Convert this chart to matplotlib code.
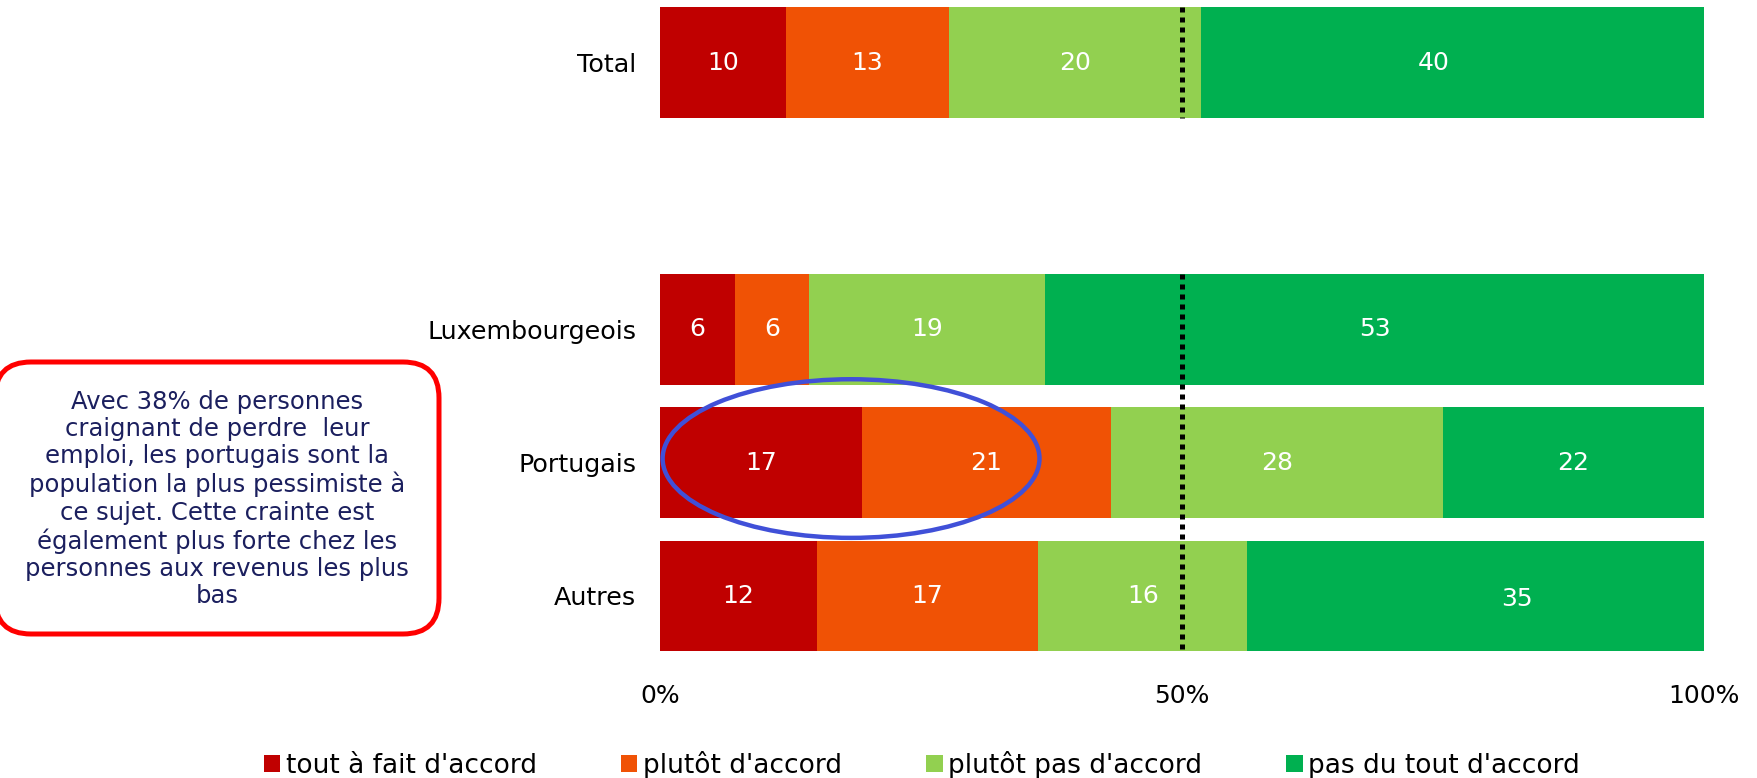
import matplotlib
matplotlib.use("Agg")
import matplotlib.pyplot as plt
from matplotlib.patches import Ellipse, FancyBboxPatch, Patch
import numpy as np

categories = ["Total", "", "Luxembourgeois", "Portugais", "Autres"]
series_names = ["tout à fait d'accord", "plutôt d'accord",
                "plutôt pas d'accord", "pas du tout d'accord"]
tout_a_fait = [10, np.nan, 6, 17, 12]
plutot = [13, np.nan, 6, 21, 17]
plutot_pas = [20, np.nan, 19, 28, 16]
pas_du_tout = [40, np.nan, 53, 22, 35]
colors = ["#C00000", "#F05205", "#92D050", "#00B050"]
tick_values = [0, 50, 100]
tick_labels = ["0%", "50%", "100%"]

note = ("Avec 38% de personnes\ncraignant de perdre  leur\nemploi, les portugais sont la\n"
        "population la plus pessimiste à\nce sujet. Cette crainte est\n"
        "également plus forte chez les\npersonnes aux revenus les plus\nbas")

plt.rcParams["font.family"] = ["DejaVu Sans"]

fig = plt.figure(figsize=(17.58, 7.78), dpi=100)
ax = fig.add_axes([660 / 1758, 1 - 662.5 / 778, 1044 / 1758, 662.5 / 778])

values = np.array([tout_a_fait, plutot, plutot_pas, pas_du_tout], dtype=float)
totals = np.nansum(values, axis=0)
shares = np.where(totals > 0, values / np.where(totals > 0, totals, 1) * 100, np.nan)

# hand-placed label nudges (series index, bar index) -> (dx in %, dy in bar units)
nudges = {(3, 0): (-1.8, 0.0), (3, 4): (4.0, 0.025)}

y = np.arange(len(categories))
left = np.zeros(len(categories))
bar_h = 0.83
for i, name in enumerate(series_names):
    w = np.nan_to_num(shares[i])
    ax.barh(y, w, left=left, height=bar_h, color=colors[i], label=name,
            edgecolor="none")
    for j in range(len(categories)):
        if not np.isnan(values[i, j]):
            dx, dy = nudges.get((i, j), (0.0, 0.0))
            ax.text(left[j] + w[j] / 2 + dx, y[j] + dy, f"{int(values[i, j])}",
                    ha="center", va="center", color="white", fontsize=18)
    left = left + w

# 50% reference line, drawn per bar group
dot = dict(colors="black", linewidth=3.6, linestyles=(0, (1, 1)))
ax.vlines(50, 0 - bar_h / 2, 0 + bar_h / 2, **dot, zorder=5)
ax.vlines(50, 2 - bar_h / 2, 4 + bar_h / 2, **dot, zorder=5)

ax.set_xlim(0, 100)
ax.set_ylim(4.5, -0.47)
ax.set_yticks(y)
ax.set_yticklabels(categories, fontsize=18.3)
ax.set_xticks(tick_values)
ax.set_xticklabels(tick_labels, fontsize=18)
ax.tick_params(axis="both", length=0)
ax.tick_params(axis="y", pad=17)
ax.tick_params(axis="x", pad=15.5)
for s in ax.spines.values():
    s.set_visible(False)

# highlight around the Portuguese bar
ell = Ellipse((18.3, 2.97), 36.1, 1.19, fill=False, edgecolor="#4050D8",
              linewidth=3.2, clip_on=False, zorder=6)
ax.add_patch(ell)

# commentary box
box = FancyBboxPatch((-0.05, 1.44), 4.44, 2.72,
                     boxstyle="round,pad=0,rounding_size=0.36",
                     transform=fig.dpi_scale_trans, facecolor="white",
                     edgecolor="#FF0000", linewidth=3.6, zorder=3)
fig.patches.append(box)
fig.text(2.17 / 17.58, 2.79 / 7.78, note, ha="center", va="center",
         fontsize=17.5, color="#1B1F5E", linespacing=1.17, zorder=4)

handles = [Patch(facecolor=c, edgecolor="none") for c in colors]
fig.legend(handles, series_names, loc="center left",
           bbox_to_anchor=(264 / 1758, 1 - 765 / 778), ncol=4, frameon=False,
           fontsize=19, handlelength=0.62, handleheight=0.62,
           handletextpad=0.2, columnspacing=3.2, borderpad=0, borderaxespad=0)

fig.savefig("out.png", dpi=100)
